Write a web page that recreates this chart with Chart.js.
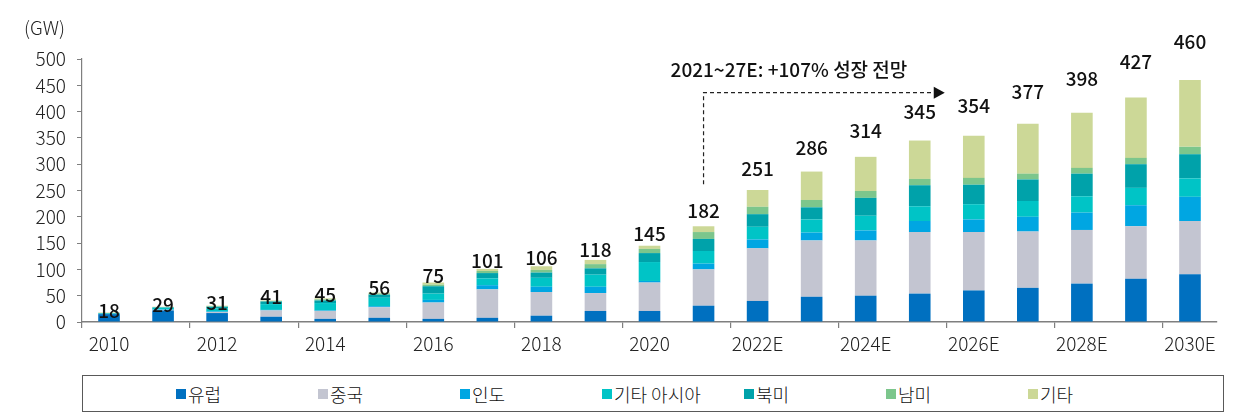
<!DOCTYPE html>
<html>
<head>
<meta charset="utf-8">
<script src="https://cdn.jsdelivr.net/npm/chart.js@4.4.1/dist/chart.umd.min.js"></script>
<style>
  html, body { margin: 0; padding: 0; background: #fff; }
  body { width: 1243px; height: 418px; position: relative; overflow: hidden; font-family: "Noto Sans CJK KR", "Noto Sans", sans-serif; }
  #wrap { position: absolute; left: 0; top: 0; width: 1243px; height: 370px; }
  #legend {
    position: absolute; left: 82px; top: 375px; width: 1142px; height: 37px;
    border: 1px solid #595959; box-sizing: border-box;
  }
  #legend .item { position: absolute; top: 0; height: 35px; display: flex; align-items: center; font-size: 18px; font-weight: 300; color: #111; }
  #legend .box { width: 10px; height: 10px; margin-right: 2px; }
</style>
</head>
<body>
<div id="wrap"><canvas id="chart"></canvas></div>
<div id="legend"></div>
<script>
const years = ['2010','2011','2012','2013','2014','2015','2016','2017','2018','2019','2020','2021',
  '2022E','2023E','2024E','2025E','2026E','2027E','2028E','2029E','2030E'];

const seriesNames = ['유럽', '중국', '인도', '기타 아시아', '북미', '남미', '기타'];
const seriesColors = ['#0070c0', '#c3c5d1', '#00a6e2', '#00c4c6', '#00a2aa', '#7cc68c', '#ccd897'];

const europe    = [15, 22, 17, 10,  6,  8,  6,  8, 12, 21, 21, 31,  40,  48,  50,  54,  60,  65,  73,  82,  91];
const china     = [ 0,  1,  2, 12, 15, 20, 31, 54, 45, 34, 54, 69, 100, 107, 105, 117, 111, 107, 102, 100, 101];
const india     = [ 0,  1,  1,  1,  1,  2,  5,  8, 10, 12,  3, 11,  17,  15,  19,  21,  24,  28,  33,  40,  46];
const otherAsia = [ 1,  3,  6, 11, 14, 16, 12, 13, 17, 23, 36, 24,  24,  25,  28,  28,  29,  30,  31,  33,  35];
const northAm   = [ 1,  1,  3,  5,  5,  6, 14, 10, 10, 12, 17, 23,  24,  23,  34,  40,  37,  41,  43,  45,  46];
const southAm   = [ 0,  0,  1,  1,  2,  2,  3,  4,  5,  8,  8, 13,  14,  14,  13,  12,  13,  11,  11,  12,  14];
const others    = [ 1,  1,  1,  1,  2,  2,  4,  4,  7,  8,  6, 11,  32,  54,  65,  73,  80,  95, 105, 115, 127];
const totals    = [18, 29, 31, 41, 45, 56, 75, 101, 106, 118, 145, 182, 251, 286, 314, 345, 354, 377, 398, 427, 460];

const yTicks = [0, 50, 100, 150, 200, 250, 300, 350, 400, 450, 500];
const growthNote = '2021~27E: +107% 성장 전망';

const FONT = '"Noto Sans CJK KR", "Noto Sans", sans-serif';
const seriesData = [europe, china, india, otherAsia, northAm, southAm, others];

// totals above bars + growth arrow + unit label
const overlay = {
  id: 'overlay',
  afterDatasetsDraw(chart) {
    const { ctx, scales: { x, y } } = chart;
    ctx.save();
    ctx.fillStyle = '#111';
    ctx.font = '500 19px ' + FONT;
    ctx.textAlign = 'center';
    ctx.textBaseline = 'middle';
    totals.forEach((t, i) => {
      ctx.fillText(String(t), x.getPixelForValue(i), y.getPixelForValue(t * 1.16));
    });

    // dashed arrow from 2021 to 2026E
    const x0 = x.getPixelForValue(11);
    const step = x.getPixelForValue(16) - x.getPixelForValue(15);
    const x1 = x.getPixelForValue(15) + step / 2 - 2;
    const yBot = y.getPixelForValue(262);
    const yTop = y.getPixelForValue(436);
    ctx.strokeStyle = '#222';
    ctx.lineWidth = 1.2;
    ctx.setLineDash([4, 3]);
    ctx.beginPath();
    ctx.moveTo(x0, yBot);
    ctx.lineTo(x0, yTop);
    ctx.lineTo(x1 - 8, yTop);
    ctx.stroke();
    ctx.setLineDash([]);
    ctx.fillStyle = '#111';
    ctx.beginPath();
    ctx.moveTo(x1, yTop);
    ctx.lineTo(x1 - 11, yTop - 6);
    ctx.lineTo(x1 - 11, yTop + 6);
    ctx.closePath();
    ctx.fill();

    ctx.font = '500 19px ' + FONT;
    ctx.textAlign = 'left';
    ctx.fillText(growthNote, x0 - 33, y.getPixelForValue(479));

    ctx.font = '300 19px ' + FONT;
    ctx.fillStyle = '#222';
    ctx.fillText('(GW)', 24, 28);
    ctx.restore();
  }
};

new Chart(document.getElementById('chart'), {
  type: 'bar',
  data: {
    labels: years,
    datasets: seriesNames.map((name, k) => ({
      label: name,
      data: seriesData[k],
      backgroundColor: seriesColors[k],
      borderWidth: 0,
      categoryPercentage: 1,
      barPercentage: 0.4
    }))
  },
  options: {
    responsive: true,
    maintainAspectRatio: false,
    animation: false,
    layout: { padding: { top: 59, right: 26, left: 0, bottom: 0 } },
    plugins: { legend: { display: false }, tooltip: { enabled: false } },
    scales: {
      x: {
        stacked: true,
        afterFit: s => { s.height = 48; },
        border: { color: '#7f7f7f', width: 1.5 },
        grid: {
          offset: true,
          drawOnChartArea: false,
          tickLength: 6,
          color: c => (c.index % 2 === 0 ? '#7f7f7f' : 'rgba(0,0,0,0)'),
          lineWidth: 1.2
        },
        ticks: {
          autoSkip: false,
          maxRotation: 0,
          padding: 4,
          color: '#222',
          font: { family: FONT, size: 19, weight: 300 },
          callback: (v, i) => (i % 2 === 0 ? years[i] : '')
        }
      },
      y: {
        stacked: true,
        min: 0,
        max: 500,
        afterFit: s => { s.width = 82; },
        afterBuildTicks: s => { s.ticks = yTicks.map(v => ({ value: v })); },
        border: { color: '#7f7f7f', width: 1.2 },
        grid: { drawOnChartArea: false, tickLength: 5, color: '#7f7f7f' },
        ticks: {
          padding: 11,
          color: '#222',
          font: { family: FONT, size: 19, weight: 300 }
        }
      }
    }
  },
  plugins: [overlay]
});

// legend: evenly spaced items
const legend = document.getElementById('legend');
seriesNames.forEach((name, k) => {
  const it = document.createElement('div');
  it.className = 'item';
  it.style.left = (93 + 142 * k) + 'px';
  it.innerHTML = '<span class="box" style="background:' + seriesColors[k] + '"></span>' + name;
  legend.appendChild(it);
});
</script>
</body>
</html>
